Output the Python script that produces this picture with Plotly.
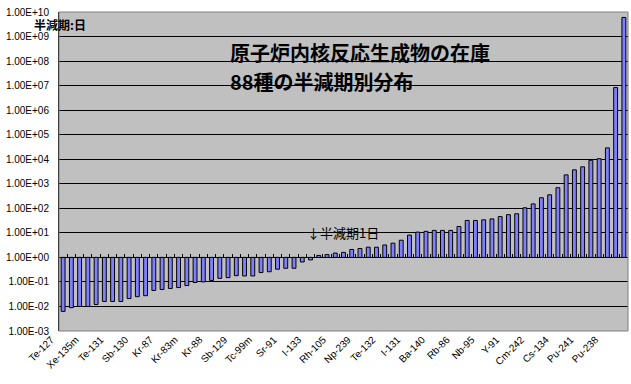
import plotly.graph_objects as go

# Half-lives (days) of the 69 shown nuclides (sorted ascending)
half_life_days = [6.3e-3, 8.9e-3, 1.0e-2, 1.0e-2, 1.2e-2, 1.6e-2, 1.6e-2, 1.6e-2, 2.1e-2, 2.5e-2,
                  2.75e-2, 4.5e-2, 4.9e-2, 5.4e-2, 5.9e-2, 7.1e-2, 9.5e-2, 1.0e-1, 1.15e-1, 1.4e-1,
                  1.5e-1, 1.8e-1, 1.75e-1, 1.75e-1, 2.4e-1, 2.6e-1, 3.3e-1, 3.6e-1, 3.6e-1, 6.5e-1,
                  7.9e-1, 1.2, 1.3, 1.5, 1.6, 2.1, 2.3, 2.6, 2.6, 3.2,
                  3.8, 5.0, 8.1, 10.7, 11.5, 12.6, 12.6, 12.6, 18.2, 32,
                  32, 34, 37, 46, 55, 60, 105, 151, 270, 355,
                  690, 2300, 3700, 4900, 9100, 10500, 29000, 8.3e6, 6.0e9]

# Category labels shown (every 3rd bar)
tick_labels = ["Te-127", "Xe-135m", "Te-131", "Sb-130", "Kr-87", "Kr-83m", "Kr-88", "Sb-129",
               "Tc-99m", "Sr-91", "I-133", "Rh-105", "Np-239", "Te-132", "I-131", "Ba-140",
               "Rb-86", "Nb-95", "Y-91", "Cm-242", "Cs-134", "Pu-241", "Pu-238"]
label_step = 3

y_exponents = list(range(-3, 11))

n = len(half_life_days)
x_idx = list(range(n))
bases = [min(v, 1.0) for v in half_life_days]
lengths = [abs(v - 1.0) for v in half_life_days]

fig = go.Figure()
fig.add_trace(go.Bar(
    x=x_idx, y=lengths, base=bases, width=0.47,
    marker=dict(color="#8080FF", line=dict(color="black", width=1)),
    hovertext=[f"{v:g}" for v in half_life_days], hoverinfo="text",
    showlegend=False,
))
# invisible helper trace to carry the baseline tick-mark axis
fig.add_trace(go.Scatter(x=[0], y=[1], xaxis="x2", mode="markers",
                         marker=dict(opacity=0), hoverinfo="skip", showlegend=False))

y_lo, y_hi = y_exponents[0], y_exponents[-1]
base_pos = (0 - y_lo) / (y_hi - y_lo)

axis_font = dict(family="Liberation Sans, Arial", size=10, color="black")
fig.update_layout(
    width=631, height=384,
    margin=dict(l=59, r=3, t=12, b=53, autoexpand=False),
    paper_bgcolor="white", plot_bgcolor="#C0C0C0",
    xaxis=dict(
        range=[-0.5, n - 0.5], autorange=False, automargin=False,
        tickvals=x_idx[::label_step][:len(tick_labels)],
        ticktext=tick_labels,
        tickangle=-45, tickfont=axis_font, ticklabelshift=-12,
        ticks="", showgrid=False, zeroline=False, showline=False,
    ),
    xaxis2=dict(
        range=[-0.5, n - 0.5], autorange=False, automargin=False,
        overlaying="x", anchor="free", position=base_pos,
        side="bottom", tickvals=[i + 0.5 for i in x_idx[:-1]],
        ticks="inside", ticklen=3, tickwidth=1, tickcolor="black",
        showticklabels=False, showgrid=False, zeroline=False, showline=False,
    ),
    yaxis=dict(
        type="log", range=[y_lo, y_hi], autorange=False, automargin=False,
        tickvals=[10.0 ** e for e in y_exponents],
        ticktext=[f"{10.0 ** e:.2E}" for e in y_exponents],
        tickfont=axis_font, ticks="", ticklabelstandoff=7,
        showgrid=True, gridcolor="black", gridwidth=1,
        showline=True, linecolor="black", linewidth=1,
        zeroline=False,
    ),
    shapes=[dict(type="rect", xref="paper", yref="paper", x0=0, x1=1, y0=0, y1=1,
                 line=dict(color="#808080", width=1), layer="above")],
    annotations=[
        dict(text="<b>半減期:日</b>", xref="paper", yref="paper", x=-0.0475, y=0.962,
             xanchor="left", yanchor="middle", showarrow=False,
             font=dict(family="Noto Sans CJK JP", size=12, color="black")),
        dict(text="<b>原子炉内核反応生成物の在庫</b>", xref="paper", yref="paper", x=0.2975, y=0.872,
             xanchor="left", yanchor="middle", showarrow=False,
             font=dict(family="Noto Sans CJK JP", size=20, color="black")),
        dict(text="<b>88種の半減期別分布</b>", xref="paper", yref="paper", x=0.2975, y=0.781,
             xanchor="left", yanchor="middle", showarrow=False,
             font=dict(family="Noto Sans CJK JP", size=20, color="black")),
        dict(text="↓半減期1日", xref="paper", yref="paper", x=0.433, y=0.31,
             xanchor="left", yanchor="middle", showarrow=False,
             font=dict(family="Noto Sans CJK JP", size=13, color="black")),
    ],
)

fig.write_html("out.html", config={"displayModeBar": False},
               post_script="document.body.style.margin='0';")
